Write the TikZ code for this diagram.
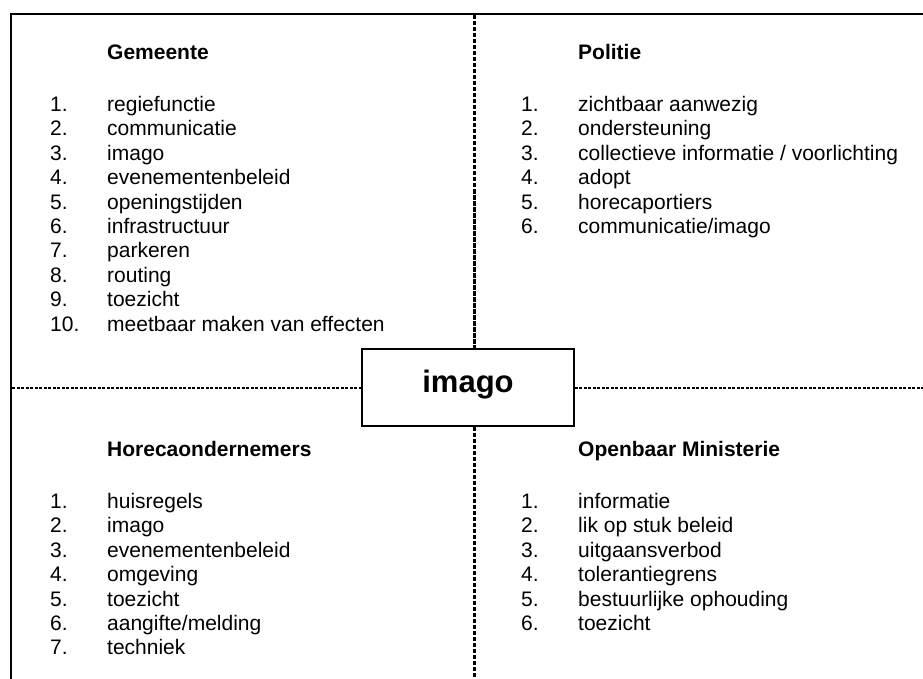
\documentclass[tikz,border=0pt]{standalone}
\usepackage{fontspec}
\setmainfont{Liberation Sans}
\begin{document}
\begin{tikzpicture}[x=1pt,y=-1pt,
  txt/.style={anchor=base west,inner sep=0pt,font=\fontsize{21}{24.4}\selectfont},
  head/.style={txt,font=\fontsize{21}{24.4}\selectfont\bfseries},
  frame/.style={line width=2pt},
  vdash/.style={line width=3pt,dash pattern=on 4.5pt off 1.5pt},
  hdash/.style={line width=1.2pt,dash pattern=on 3pt off 1.5pt},
  centerbox/.style={draw,line width=1.5pt,minimum width=212pt,minimum height=77pt,inner sep=0pt},
  centerlabel/.style={anchor=base,inner sep=0pt,font=\fontsize{31}{36}\selectfont\bfseries}]
\useasboundingbox (0,0) rectangle (923,679);
\fill[white] (0,0) rectangle (923,679);
% frame
\coordinate (tl) at (10,14);
\coordinate (tr) at (923,14);
\coordinate (lt) at (11,13);
\coordinate (lb) at (11,679);
\draw[frame] (tl) -- (tr);
\draw[frame] (lt) -- (lb);
% centre box
\node[centerbox] (box) at (468,387.5) {};
\node[centerlabel] (boxlabel) at (468,392) {imago};
\coordinate (vtop) at (474.5,15);
\coordinate (vbot) at (474.5,679);
\coordinate (hl) at (12,388);
\coordinate (hr) at (923,388);
\draw[vdash] (vtop) -- (vtop |- box.north);
\draw[vdash] (vtop |- box.south) -- (vbot);
\draw[hdash] (hl) -- (hl -| box.west);
\draw[hdash] (hr -| box.east) -- (hr);
% headings
\node[head] (hg) at (107,60) {Gemeente};
\node[head] (hp) at (578,60) {Politie};
\node[head] (hh) at (107,456.5) {Horecaondernemers};
\node[head] (ho) at (578,456.5) {Openbaar Ministerie};
% lists
\foreach \t [count=\i] in {regiefunctie,communicatie,imago,evenementenbeleid,openingstijden,infrastructuur,parkeren,routing,toezicht,meetbaar maken van effecten}{
  \node[txt] (gn\i) at (50,{111.5+24.4*(\i-1)}) {\i.};
  \node[txt] (gt\i) at (107,{111.5+24.4*(\i-1)}) {\t};
}
\foreach \t [count=\i] in {zichtbaar aanwezig,ondersteuning,collectieve informatie / voorlichting,adopt,horecaportiers,communicatie/imago}{
  \node[txt] (pn\i) at (521,{111.5+24.4*(\i-1)}) {\i.};
  \node[txt] (pt\i) at (578,{111.5+24.4*(\i-1)}) {\t};
}
\foreach \t [count=\i] in {huisregels,imago,evenementenbeleid,omgeving,toezicht,aangifte/melding,techniek}{
  \node[txt] (hn\i) at (50,{508.4+24.4*(\i-1)}) {\i.};
  \node[txt] (ht\i) at (107,{508.4+24.4*(\i-1)}) {\t};
}
\foreach \t [count=\i] in {informatie,lik op stuk beleid,uitgaansverbod,tolerantiegrens,bestuurlijke ophouding,toezicht}{
  \node[txt] (on\i) at (521,{508.4+24.4*(\i-1)}) {\i.};
  \node[txt] (ot\i) at (578,{508.4+24.4*(\i-1)}) {\t};
}
\end{tikzpicture}
\end{document}
